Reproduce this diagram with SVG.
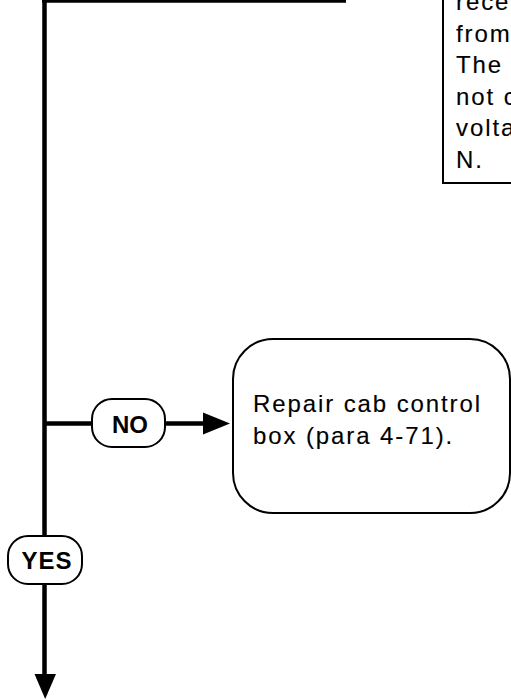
<svg xmlns="http://www.w3.org/2000/svg" width="511" height="700" viewBox="0 0 511 700">
<style>
.body{font-family:"Liberation Sans",Arial,sans-serif;font-size:24px;letter-spacing:1.9px;fill:#000;stroke:#000;stroke-width:0.12}
.lbl{font-family:"Liberation Sans",Arial,sans-serif;font-size:24px;font-weight:bold;fill:#000;text-anchor:middle}
.box{fill:#fff;stroke:#000;stroke-width:2}
.wire{stroke:#000;stroke-width:4.5;fill:none}
</style>
<rect width="511" height="700" fill="#fff"/>
<g id="connectors">
<line class="wire" x1="44.5" y1="0" x2="44.5" y2="676"/>
<line x1="42" y1="1.2" x2="346" y2="1.2" stroke="#000" stroke-width="3"/>
<polygon points="34.5,674 56,674 45.2,699" fill="#000"/>
<line class="wire" x1="44.5" y1="423.5" x2="205" y2="423.5"/>
<polygon points="203,412.5 230,423.5 203,434.5" fill="#000"/>
</g>
<g id="note-box">
<rect class="box" x="443" y="-10" width="100" height="193"/>
<text class="body" x="456" y="10">rece</text>
<text class="body" x="456" y="41.5">from</text>
<text class="body" x="456" y="73">The</text>
<text class="body" x="456" y="104.5">not c</text>
<text class="body" x="456" y="136">volta</text>
<text class="body" x="456" y="167.5">N.</text>
</g>
<g id="no-label">
<rect class="box" x="92" y="399" width="73" height="48" rx="20"/>
<text class="lbl" x="130" y="433">NO</text>
</g>
<g id="repair-box">
<rect class="box" x="233" y="339" width="277" height="174" rx="40"/>
<text class="body" x="253" y="412">Repair cab control</text>
<text class="body" x="253" y="444">box (para 4-71).</text>
</g>
<g id="yes-label">
<rect class="box" x="8" y="536" width="74" height="48" rx="20"/>
<text class="lbl" x="47" y="569" letter-spacing="1">YES</text>
</g>
</svg>
